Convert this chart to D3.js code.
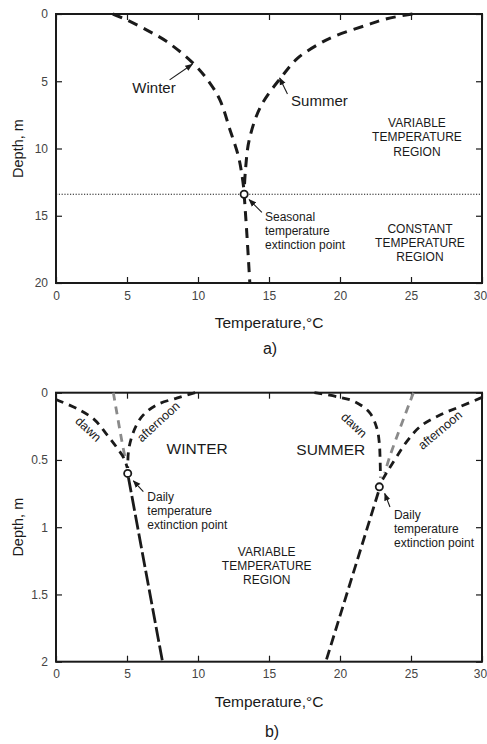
<!DOCTYPE html>
<html><head><meta charset="utf-8">
<script src="https://cdn.jsdelivr.net/npm/d3@7"></script>
<style>body{margin:0;background:#fff}svg{display:block;font-family:"Liberation Sans",Arial,sans-serif}</style>
</head><body><svg id="c" width="487" height="744"></svg>
<script>
// ---------- data ----------
const xTicks = [0,5,10,15,20,25,30];
const yTicksA = [0,5,10,15,20];
const yTicksB = [0,0.5,1,1.5,2];

// chart a) seasonal  [temperature °C, depth m]
const seasonWinter = [[4.0,0],[4.8,0.35],[6.4,1.2],[7.8,2.05],[9.7,3.7],[10.85,5.15],[11.55,6.4],[12.25,8.6],[12.85,10.6],[13.1,12],[13.25,13.2]];
const seasonSummer = [[25.1,0],[23.3,0.35],[21.9,0.82],[19.5,1.7],[18.4,2.3],[17.0,3.3],[15.9,4.65],[14.4,6.9],[13.6,9.4],[13.35,11.5],[13.25,13.2]];
const seasonDeep = [[13.25,13.4],[13.45,16.5],[13.65,20]];
const seasonExtinction = [13.25,13.4];

// chart b) daily
const winterDawn = [[0,0.05],[1.5,0.12],[2.7,0.2],[3.5,0.3],[4.3,0.41],[4.8,0.49],[5.02,0.56]];
const winterNoon = [[4.04,0],[4.62,0.35],[4.9,0.5]];
const winterAfternoon = [[9.8,0.0],[8.5,0.04],[7.1,0.09],[6.15,0.165],[5.65,0.245],[5.3,0.34],[5.1,0.44],[5.05,0.56]];
const winterDeep = [[5.1,0.63],[7.5,2.0]];
const winterExtinction = [5.05,0.6];
const summerDawn = [[18.2,0],[19.8,0.03],[21.05,0.067],[22.1,0.15],[22.6,0.265],[22.77,0.376],[22.82,0.48],[22.85,0.63]];
const summerNoon = [[25.17,0],[23.5,0.476],[23.15,0.6]];
const summerAfternoon = [[30,0.035],[28.45,0.104],[27.04,0.166],[25.63,0.253],[24.7,0.364],[23.99,0.476],[23.4,0.575],[23.0,0.645]];
const summerDeep = [[22.7,0.74],[19.0,2.0]];
const summerExtinction = [22.77,0.7];

// ---------- drawing ----------
const svg = d3.select("#c");
const L = 56, R = 482, W = R - L, H = 269;
const ink = "#1a1a1a";

const defs = svg.append("defs");
defs.append("marker").attr("id","ah").attr("viewBox","0 0 10 10").attr("refX",9).attr("refY",5)
  .attr("markerWidth",7).attr("markerHeight",7).attr("orient","auto-start-reverse")
  .append("path").attr("d","M0,1 L10,5 L0,9 Z").attr("fill",ink);

function panel(top, yDomain, yTicks, yFmt){
  const g = svg.append("g").attr("transform",`translate(${L},${top})`);
  const x = d3.scaleLinear().domain([0,30]).range([0,W]);
  const y = d3.scaleLinear().domain(yDomain).range([0,H]);
  const styleAxis = a => {
    a.select(".domain").remove();
    a.selectAll(".tick line").attr("stroke",ink).attr("stroke-width",1.2);
    a.selectAll(".tick text").attr("fill","#444").style("font-size","12px").style("font-family","'Liberation Sans',Arial,sans-serif");
  };
  const bx = g.append("g").attr("transform",`translate(0,${H})`).call(d3.axisBottom(x).tickValues(xTicks).tickSize(-6).tickPadding(8)).call(styleAxis);
  bx.selectAll(".tick text").filter(d=>d===30).attr("dx",-2);
  g.append("g").call(d3.axisTop(x).tickValues(xTicks).tickSize(-6).tickFormat("")).call(styleAxis);
  g.append("g").call(d3.axisLeft(y).tickValues(yTicks).tickSize(-6).tickPadding(8).tickFormat(yFmt)).call(styleAxis);
  g.append("g").attr("transform",`translate(${W},0)`).call(d3.axisRight(y).tickValues(yTicks).tickSize(-6).tickFormat("")).call(styleAxis);
  g.append("rect").attr("width",W).attr("height",H).attr("fill","none").attr("stroke",ink).attr("stroke-width",2);
  g.append("text").attr("x",W/2).attr("y",H+45).attr("text-anchor","middle").attr("fill",ink)
    .style("font-size","15.5px").text("Temperature,°C");
  g.append("text").attr("transform",`translate(${18-L},${H/2}) rotate(-90)`).attr("text-anchor","middle")
    .attr("dy","0.35em").attr("fill",ink).style("font-size","14.5px").text("Depth, m");
  return {g,x,y};
}

function curve(p, data, dash, color, width, c){
  const line = d3.line().x(d=>p.x(d[0])).y(d=>p.y(d[1])).curve(c || d3.curveCatmullRom.alpha(0.5));
  p.g.append("path").attr("d",line(data)).attr("fill","none").attr("stroke",color||ink)
    .attr("stroke-width",width||3).attr("stroke-dasharray",dash);
}
function circ(p, pt){
  p.g.append("circle").attr("cx",p.x(pt[0])).attr("cy",p.y(pt[1])).attr("r",3.6)
    .attr("fill","#fff").attr("stroke",ink).attr("stroke-width",1.8);
}
function arrow(p, from, to){
  p.g.append("line").attr("x1",p.x(from[0])).attr("y1",p.y(from[1])).attr("x2",p.x(to[0])).attr("y2",p.y(to[1]))
    .attr("stroke",ink).attr("stroke-width",1.1).attr("marker-end","url(#ah)");
}
function label(p, pt, lines, size, anchor, lh){
  const t = p.g.append("text").attr("x",p.x(pt[0])).attr("y",p.y(pt[1])).attr("text-anchor",anchor||"middle")
    .attr("fill",ink).style("font-size",size+"px");
  lines.forEach((s,i)=>t.append("tspan").attr("x",p.x(pt[0])).attr("dy",i?lh:0).text(s));
}
function rotLabel(p, pt, s, ang){
  p.g.append("text").attr("transform",`translate(${p.x(pt[0])},${p.y(pt[1])}) rotate(${ang})`)
    .attr("text-anchor","middle").attr("dy","0.35em").attr("fill",ink).style("font-size","12.5px").text(s);
}

// ---- panel a ----
const A = panel(14, [0,20], yTicksA, d3.format("d"));
A.g.append("line").attr("x1",0).attr("x2",W).attr("y1",A.y(seasonExtinction[1])).attr("y2",A.y(seasonExtinction[1]))
  .attr("stroke",ink).attr("stroke-width",1.2).attr("stroke-dasharray","1.2,1.6");
curve(A, seasonWinter, "10,7", ink, 3);
curve(A, seasonSummer, "10,7", ink, 3);
curve(A, seasonDeep, "10,7", ink, 3);
circ(A, seasonExtinction);
arrow(A, [8.0,4.9], [9.6,3.74]);
label(A, [6.9,5.85], ["Winter"], 15, "middle", 0);
arrow(A, [16.3,5.95], [15.75,4.75]);
label(A, [18.55,6.84], ["Summer"], 15, "middle", 0);
arrow(A, [14.5,14.75], [13.6,13.8]);
label(A, [14.72,15.4], ["Seasonal","temperature","extinction point"], 12, "start", 14);
label(A, [25.42,8.4], ["VARIABLE","TEMPERATURE","REGION"], 12, "middle", 14.5);
label(A, [25.63,16.28], ["CONSTANT","TEMPERATURE","REGION"], 12, "middle", 14);
svg.append("text").attr("x",270).attr("y",354).attr("text-anchor","middle").attr("fill",ink).style("font-size","16px").text("a)");

// ---- panel b ----
const B = panel(392.7, [0,2], yTicksB, d=>d===0?"0":(d%1===0?d3.format("d")(d):d3.format(".1f")(d)));
curve(B, winterNoon, "8,6", "#8a8a8a", 2.8);
curve(B, winterDawn, "8,6", ink, 2.8);
curve(B, winterAfternoon, "8,6", ink, 2.8);
curve(B, winterDeep, "15,4", ink, 2.8);
curve(B, summerNoon, "8,6", "#8a8a8a", 2.8);
curve(B, summerDawn, "8,6", ink, 2.8);
curve(B, summerAfternoon, "8,6", ink, 2.8);
curve(B, summerDeep, "10,5", ink, 2.8);
circ(B, winterExtinction);
circ(B, summerExtinction);
arrow(B, [6.15,0.735], [5.45,0.655]);
arrow(B, [23.52,0.85], [23.15,0.75]);
label(B, [6.43,0.805], ["Daily","temperature","extinction point"], 12, "start", 14);
label(B, [23.8,0.94], ["Daily","temperature","extinction point"], 12, "start", 14);
label(B, [9.94,0.455], ["WINTER"], 15.5, "middle", 0);
label(B, [19.35,0.46], ["SUMMER"], 15.5, "middle", 0);
label(B, [14.84,1.214], ["VARIABLE","TEMPERATURE","REGION"], 12, "middle", 14);
rotLabel(B, [2.28,0.27], "dawn", 43);
rotLabel(B, [7.2,0.215], "afternoon", -42.5);
rotLabel(B, [21.0,0.24], "dawn", 43);
rotLabel(B, [27.04,0.277], "afternoon", -40);
svg.append("text").attr("x",272).attr("y",737).attr("text-anchor","middle").attr("fill",ink).style("font-size","16px").text("b)");
</script></body></html>
